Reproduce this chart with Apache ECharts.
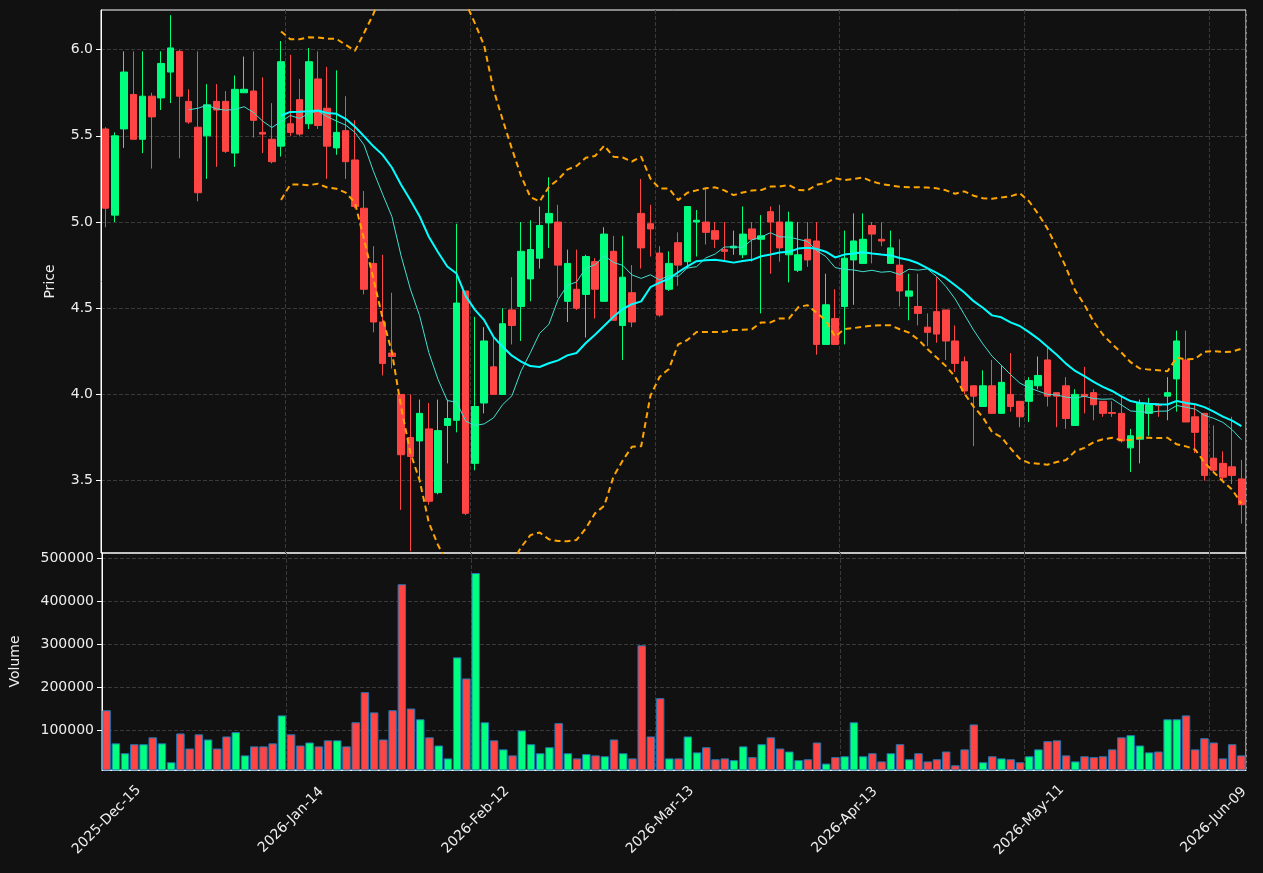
<!DOCTYPE html>
<html>
<head>
<meta charset="utf-8">
<script src="https://cdn.jsdelivr.net/npm/echarts@6/dist/echarts.min.js"></script>
<style>
  html, body { margin: 0; padding: 0; background: #111111; }
  #chart { width: 1263px; height: 873px; }
</style>
</head>
<body>
<div id="chart"></div>
<script>
// trading days start here, skipping weekends and these market holidays
var startDate = '2025-12-15';
var holidays = ['2025-12-25', '2026-01-01', '2026-01-19', '2026-02-16', '2026-04-03', '2026-05-25'];
var months = ['Jan','Feb','Mar','Apr','May','Jun','Jul','Aug','Sep','Oct','Nov','Dec'];

var opens = [5.54,5.04,5.54,5.74,5.48,5.73,5.72,5.87,5.99,5.70,
  5.55,5.50,5.70,5.70,5.40,5.75,5.76,5.52,5.48,5.44,
  5.57,5.71,5.57,5.83,5.66,5.43,5.53,5.36,5.08,4.76,
  4.42,4.24,4.00,3.75,3.73,3.80,3.43,3.82,3.85,4.60,
  3.60,3.95,4.16,4.00,4.49,4.51,4.67,4.79,4.995,5.00,
  4.54,4.61,4.58,4.77,4.54,4.83,4.40,4.59,5.05,4.99,
  4.82,4.61,4.88,4.77,5.00,5.00,4.95,4.84,4.85,4.81,
  4.96,4.90,5.06,5.00,4.81,4.72,4.90,4.89,4.29,4.44,
  4.51,4.78,4.76,4.98,4.90,4.76,4.75,4.57,4.51,4.39,
  4.48,4.49,4.31,4.19,4.05,3.93,4.05,3.89,4.00,3.96,
  3.96,4.05,4.20,4.01,4.05,3.82,4.00,4.01,3.96,3.895,
  3.89,3.69,3.74,3.89,3.94,3.99,4.09,4.20,3.87,3.89,
  3.63,3.60,3.58,3.51];
var closes = [5.08,5.50,5.87,5.48,5.73,5.61,5.92,6.01,5.73,5.58,
  5.17,5.68,5.65,5.41,5.77,5.77,5.59,5.51,5.35,5.93,
  5.52,5.51,5.93,5.56,5.44,5.52,5.35,5.09,4.61,4.42,
  4.18,4.22,3.65,3.64,3.89,3.38,3.79,3.86,4.53,3.31,
  3.93,4.31,4.00,4.41,4.40,4.83,4.84,4.98,5.05,4.75,
  4.76,4.50,4.80,4.61,4.93,4.43,4.68,4.42,4.85,4.96,
  4.46,4.76,4.75,5.09,5.01,4.94,4.90,4.83,4.86,4.93,
  4.90,4.92,5.00,4.85,5.00,4.81,4.78,4.29,4.52,4.29,
  4.79,4.89,4.90,4.93,4.89,4.85,4.60,4.60,4.47,4.36,
  4.35,4.31,4.18,4.02,3.99,4.05,3.89,4.07,3.93,3.87,
  4.08,4.11,3.99,3.99,3.86,4.00,3.99,3.94,3.89,3.89,
  3.73,3.76,3.95,3.94,3.935,4.01,4.31,3.84,3.78,3.53,
  3.56,3.52,3.53,3.36];
var highs = [5.55,5.52,5.99,5.99,5.99,5.75,5.99,6.20,6.00,5.77,
  5.99,5.80,5.80,5.76,5.85,5.96,5.99,5.84,5.69,6.05,
  5.97,5.83,6.01,5.99,5.90,5.88,5.73,5.59,5.18,4.86,
  4.81,4.59,4.00,4.00,3.97,3.95,3.97,3.97,4.99,4.60,
  4.45,4.39,4.33,4.50,4.68,5.00,5.01,5.09,5.26,5.10,
  4.84,4.84,4.81,4.79,4.97,4.92,4.92,4.75,5.25,5.10,
  4.86,4.83,4.94,5.09,5.07,5.20,5.00,5.00,4.95,5.09,
  5.00,5.04,5.09,5.10,5.06,5.00,5.00,5.00,4.70,4.61,
  4.95,5.05,5.05,5.00,5.00,4.95,4.90,4.70,4.70,4.47,
  4.68,4.49,4.40,4.22,4.05,4.14,4.20,4.17,4.24,3.96,
  4.10,4.22,4.27,4.01,4.10,4.03,4.16,4.03,3.96,3.96,
  3.99,3.80,3.97,3.98,3.95,4.10,4.37,4.37,3.94,3.89,
  3.82,3.67,3.87,3.62];
var lows = [4.97,5.00,5.43,5.48,5.40,5.31,5.65,5.69,5.37,5.57,
  5.12,5.25,5.32,5.40,5.32,5.75,5.49,5.40,5.34,5.38,
  5.50,5.50,5.54,5.54,5.25,5.39,5.25,5.08,4.58,4.36,
  4.11,4.15,3.33,3.09,3.49,3.36,3.42,3.60,3.78,3.30,
  3.56,3.89,4.00,4.00,4.29,4.31,4.54,4.73,4.85,4.56,
  4.42,4.49,4.33,4.44,4.54,4.43,4.20,4.39,4.73,4.80,
  4.45,4.60,4.63,4.73,4.80,4.87,4.85,4.78,4.81,4.79,
  4.77,4.47,4.70,4.77,4.65,4.71,4.74,4.23,4.29,4.29,
  4.29,4.52,4.76,4.76,4.86,4.76,4.51,4.43,4.40,4.28,
  4.30,4.20,4.13,4.00,3.70,3.93,3.89,3.89,3.90,3.81,
  3.84,4.03,3.93,3.81,3.80,3.82,3.89,3.85,3.87,3.87,
  3.72,3.55,3.60,3.76,3.87,3.85,3.90,3.84,3.66,3.50,
  3.55,3.50,3.48,3.25];
var volumes = [146000,69000,46000,67000,67000,83000,69000,25000,92000,57000,
  90000,78000,57000,85000,95000,41000,62000,62000,69000,134000,
  90000,64000,71000,62000,76000,76000,62000,118000,188000,141000,
  78000,146000,439000,150000,125000,83000,64000,34000,269000,220000,
  465000,118000,76000,55000,41000,99000,67000,46000,60000,116000,
  46000,34000,44000,41000,39000,78000,46000,34000,297000,85000,
  174000,34000,34000,85000,48000,60000,32000,34000,30000,62000,
  37000,67000,83000,57000,50000,30000,32000,71000,22000,37000,
  39000,118000,39000,46000,27000,46000,67000,32000,46000,27000,
  32000,50000,18000,55000,113000,25000,39000,34000,32000,25000,
  39000,55000,74000,76000,41000,27000,39000,37000,39000,55000,
  83000,88000,64000,48000,50000,125000,125000,134000,55000,81000,
  71000,34000,67000,41000];
var priceTicks = [3.5, 4.0, 4.5, 5.0, 5.5, 6.0];
var volumeTicks = [100000, 200000, 300000, 400000, 500000];

// build the trading-day labels
var dates = [];
var d = new Date(startDate + 'T00:00:00Z');
while (dates.length < closes.length) {
    var iso = d.toISOString().slice(0, 10);
    var wd = d.getUTCDay();
    if (wd !== 0 && wd !== 6 && holidays.indexOf(iso) < 0) {
        dates.push(d.getUTCFullYear() + '-' + months[d.getUTCMonth()] + '-' + String(d.getUTCDate()).padStart(2, '0'));
    }
    d.setUTCDate(d.getUTCDate() + 1);
}

function movingAvg(n) {
    return closes.map(function (c, i) {
        if (i < n - 1) return '-';
        var s = 0;
        for (var k = i - n + 1; k <= i; k++) s += closes[k];
        return +(s / n).toFixed(4);
    });
}
function bollinger(n, m, sign) {
    return closes.map(function (c, i) {
        if (i < n - 1) return '-';
        var s = 0, k;
        for (k = i - n + 1; k <= i; k++) s += closes[k];
        var mean = s / n, v = 0;
        for (k = i - n + 1; k <= i; k++) v += (closes[k] - mean) * (closes[k] - mean);
        var sd = Math.sqrt(v / (n - 1));
        return +(mean + sign * m * sd).toFixed(4);
    });
}

var RED = '#ff4444', GREEN = '#00ff7f';
var candles = opens.map(function (o, i) { return [o, closes[i], lows[i], highs[i]]; });
var volBars = volumes.map(function (v, i) {
    return { value: v, itemStyle: { color: closes[i] >= opens[i] ? GREEN : RED } };
});
var tickEvery = function (i) { return i % 20 === 0; };
var txt = '#eeeeee';
var gridLine = { show: true, lineStyle: { color: '#3a3a3a', type: 'dashed' } };

var myChart = echarts.init(document.getElementById('chart'));
var option = {
    backgroundColor: '#111111',
    animation: false,
    grid: [
        { left: 101, right: 17, top: 10, height: 543, show: true, borderColor: '#ffffff', borderWidth: 1 },
        { left: 101, right: 17, top: 553, height: 217, show: true, borderColor: '#ffffff', borderWidth: 1 }
    ],
    xAxis: [
        { type: 'category', gridIndex: 0, data: dates, axisLine: { show: false }, axisTick: { show: false },
          axisLabel: { show: false }, splitLine: Object.assign({ interval: tickEvery }, gridLine) },
        { type: 'category', gridIndex: 1, data: dates, axisLine: { lineStyle: { color: '#ffffff' } },
          axisTick: { alignWithLabel: true, interval: tickEvery, lineStyle: { color: '#ffffff' } },
          axisLabel: { interval: tickEvery, rotate: 45, align: 'center', verticalAlign: 'middle', margin: 50,
              color: txt, fontSize: 14, fontFamily: 'DejaVu Sans' },
          splitLine: Object.assign({ interval: tickEvery }, gridLine) }
    ],
    yAxis: [
        { type: 'value', gridIndex: 0, min: 3.08, max: 6.23, name: 'Price', nameLocation: 'middle', nameGap: 44,
          nameTextStyle: { color: txt, fontSize: 14, fontFamily: 'DejaVu Sans' },
          axisLine: { show: true, lineStyle: { color: '#ffffff' } },
          axisLabel: { color: txt, fontSize: 14, fontFamily: 'DejaVu Sans',
              customValues: priceTicks, formatter: function (v) { return v.toFixed(1); } },
          axisTick: { show: true, customValues: priceTicks, lineStyle: { color: '#ffffff' } },
          splitLine: gridLine },
        { type: 'value', gridIndex: 1, min: 7000, max: 511600, name: 'Volume', nameLocation: 'middle', nameGap: 80,
          nameTextStyle: { color: txt, fontSize: 14, fontFamily: 'DejaVu Sans' },
          axisLine: { show: true, lineStyle: { color: '#ffffff' } },
          axisLabel: { color: txt, fontSize: 14, fontFamily: 'DejaVu Sans', customValues: volumeTicks,
              formatter: function (v) { return String(v); } },
          axisTick: { show: true, customValues: volumeTicks, lineStyle: { color: '#ffffff' } },
          splitLine: gridLine }
    ],
    series: [
        { type: 'candlestick', xAxisIndex: 0, yAxisIndex: 0, data: candles, barWidth: 7,
          itemStyle: { color: GREEN, color0: RED, borderColor: GREEN, borderColor0: RED, borderWidth: 1 } },
        { type: 'line', xAxisIndex: 0, yAxisIndex: 0, data: movingAvg(10), symbol: 'none',
          lineStyle: { color: '#40e0d0', width: 1 } },
        { type: 'line', xAxisIndex: 0, yAxisIndex: 0, data: movingAvg(20), symbol: 'none',
          lineStyle: { color: '#00ffff', width: 2 } },
        { type: 'line', xAxisIndex: 0, yAxisIndex: 0, data: bollinger(20, 2, 1), symbol: 'none', clip: true,
          lineStyle: { color: '#ffa500', width: 2, type: [6, 4] } },
        { type: 'line', xAxisIndex: 0, yAxisIndex: 0, data: bollinger(20, 2, -1), symbol: 'none', clip: true,
          lineStyle: { color: '#ffa500', width: 2, type: [6, 4] } },
        { type: 'bar', xAxisIndex: 1, yAxisIndex: 1, data: volBars, barCategoryGap: '8%',
          itemStyle: { borderColor: '#1f77b4', borderWidth: 1 } }
    ]
};
myChart.setOption(option);
</script>
</body>
</html>
